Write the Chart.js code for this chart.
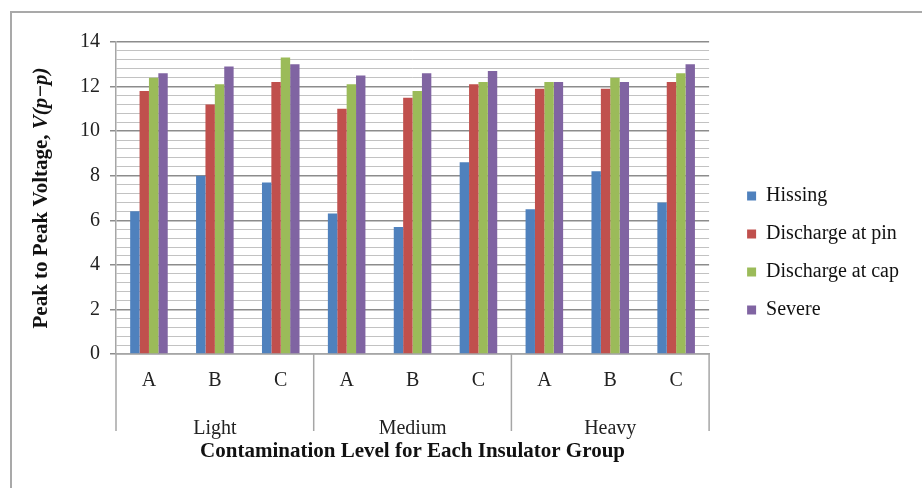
<!DOCTYPE html>
<html>
<head>
<meta charset="utf-8">
<script src="https://cdn.jsdelivr.net/npm/chart.js@4.4.1/dist/chart.umd.min.js"></script>
<style>
  html, body { margin: 0; padding: 0; background: #fff; }
  #frame {
    position: absolute; left: 10px; top: 11px; width: 940px; height: 500px;
    border: 2px solid #a9a9a9; box-sizing: border-box;
  }
  #wrap { position: absolute; left: 0; top: 0; width: 922px; height: 488px; }
</style>
</head>
<body>
<div id="frame"></div>
<div id="wrap"><canvas id="chart" width="922" height="488"></canvas></div>
<script>
// datos
const categories = ["A", "B", "C", "A", "B", "C", "A", "B", "C"];
const groups = ["Light", "Medium", "Heavy"];
const hissing      = [6.4, 8.0, 7.7, 6.3, 5.7, 8.6, 6.5, 8.2, 6.8];
const dischargePin = [11.8, 11.2, 12.2, 11.0, 11.5, 12.1, 11.9, 11.9, 12.2];
const dischargeCap = [12.4, 12.1, 13.3, 12.1, 11.8, 12.2, 12.2, 12.4, 12.6];
const severe       = [12.6, 12.9, 13.0, 12.5, 12.6, 12.7, 12.2, 12.2, 13.0];
const yMin = 0, yMax = 14, yMajor = 2, yMinor = 0.4;

const serif = "'Liberation Serif', 'Times New Roman', serif";
const isMajor = v => Math.abs(v / yMajor - Math.round(v / yMajor)) < 1e-6;

// titulo del eje Y con parte en cursiva
const yTitlePlugin = {
  id: "yTitle",
  afterDraw(chart) {
    const { ctx, chartArea } = chart;
    const partA = "Peak to Peak Voltage, ";
    const partB = "V(p\u2212p)";
    ctx.save();
    ctx.fillStyle = "#111";
    ctx.font = "bold 21px " + serif;
    const wA = ctx.measureText(partA).width;
    ctx.font = "italic bold 21px " + serif;
    const wB = ctx.measureText(partB).width;
    const cy = (chartArea.top + chartArea.bottom) / 2;
    ctx.translate(42, cy);
    ctx.rotate(-Math.PI / 2);
    ctx.textBaseline = "middle";
    ctx.textAlign = "left";
    const start = -(wA + wB) / 2;
    ctx.font = "bold 21px " + serif;
    ctx.fillText(partA, start, 0);
    ctx.font = "italic bold 21px " + serif;
    ctx.fillText(partB, start + wA, 0);
    ctx.restore();
  }
};

// separadores y nombres de grupo bajo el eje X
const groupAxisPlugin = {
  id: "groupAxis",
  afterDraw(chart) {
    const { ctx } = chart;
    const x = chart.scales.x;
    const per = categories.length / groups.length;
    const step = x.width / categories.length;
    const top = x.top, bottom = x.top + 77;
    ctx.save();
    ctx.strokeStyle = "#a6a6a6";
    ctx.lineWidth = 1.5;
    for (let i = 0; i <= groups.length; i++) {
      const px = x.left + i * per * step;
      ctx.beginPath();
      ctx.moveTo(px, top);
      ctx.lineTo(px, bottom);
      ctx.stroke();
    }
    ctx.fillStyle = "#222";
    ctx.font = "20px " + serif;
    ctx.textAlign = "center";
    ctx.textBaseline = "middle";
    groups.forEach((g, i) => {
      ctx.fillText(g, x.left + (i + 0.5) * per * step, top + 75);
    });
    ctx.restore();
  }
};

new Chart(document.getElementById("chart"), {
  type: "bar",
  data: {
    labels: categories,
    datasets: [
      { label: "Hissing", data: hissing, backgroundColor: "#4F81BD" },
      { label: "Discharge at pin", data: dischargePin, backgroundColor: "#C0504D" },
      { label: "Discharge at cap", data: dischargeCap, backgroundColor: "#9BBB59" },
      { label: "Severe", data: severe, backgroundColor: "#8064A2" }
    ]
  },
  options: {
    responsive: false,
    animation: false,
    datasets: { bar: { barPercentage: 1, categoryPercentage: 0.57 } },
    layout: { padding: { left: 0, top: 42, right: 13, bottom: 24 } },
    plugins: {
      tooltip: { enabled: false },
      legend: {
        position: "right",
        maxWidth: 191,
        labels: {
          boxWidth: 9, boxHeight: 9, padding: 18,
          color: "#111",
          font: { family: serif, size: 20 }
        }
      }
    },
    scales: {
      x: {
        grid: { display: false },
        border: { display: true, color: "#a6a6a6", width: 1.5 },
        ticks: { color: "#222", padding: 7, font: { family: serif, size: 20 } },
        title: {
          display: true,
          text: "Contamination Level for Each Insulator Group",
          color: "#111",
          font: { family: serif, size: 21, weight: "bold" },
          padding: { top: 0, bottom: 0 }
        },
        afterFit: s => { s.height = 110; }
      },
      y: {
        min: yMin, max: yMax,
        border: { display: true, color: "#a6a6a6", width: 1.5 },
        grid: {
          color: c => isMajor(c.tick.value) ? "#8c8c8c" : "#c2c2c2",
          lineWidth: c => isMajor(c.tick.value) ? 1.5 : 1,
          tickColor: c => isMajor(c.tick.value) ? "#8c8c8c" : "rgba(0,0,0,0)",
          tickLength: 6
        },
        ticks: {
          stepSize: yMinor,
          autoSkip: false,
          padding: 10,
          color: "#222",
          font: { family: serif, size: 20 },
          callback: v => isMajor(v) ? String(Math.round(v)) : ""
        },
        afterFit: s => { s.width = 116; }
      },
      yPad: {
        type: "linear",
        position: "right",
        display: true,
        grid: { display: false },
        border: { display: false },
        ticks: { display: false },
        afterFit: s => { s.width = 20; }
      }
    }
  },
  plugins: [yTitlePlugin, groupAxisPlugin]
});
</script>
</body>
</html>
